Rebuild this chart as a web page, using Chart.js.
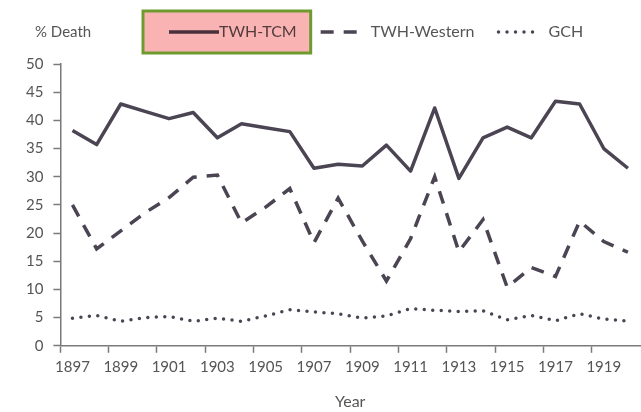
<!DOCTYPE html>
<html>
<head>
<meta charset="utf-8">
<title>% Death by year</title>
<script src="https://cdn.jsdelivr.net/npm/chart.js@4.4.1/dist/chart.umd.min.js"></script>
<style>
    html, body { margin: 0; padding: 0; background: #fff; }
    #wrap { width: 641px; height: 412px; }
</style>
</head>
<body>
<div id="wrap"><canvas id="death-chart"></canvas></div>
<script>
    "use strict";

    // Data
    var years = ["1897", "1898", "1899", "1900", "1901", "1902", "1903", "1904",
                 "1905", "1906", "1907", "1908", "1909", "1910", "1911", "1912",
                 "1913", "1914", "1915", "1916", "1917", "1918", "1919", "1920"];

    var twhTcm = [38.2, 35.7, 42.9, 41.6, 40.3, 41.4, 36.9, 39.4, 38.7, 38.0, 31.5, 32.2,
                  31.9, 35.6, 31.0, 42.2, 29.7, 36.9, 38.8, 36.9, 43.4, 42.9, 35.0, 31.5];

    var twhWestern = [25.0, 17.2, 20.4, 23.6, 26.3, 29.9, 30.3, 21.8, 24.6, 27.9, 18.3, 26.2,
                      18.6, 11.5, 19.0, 30.0, 16.7, 22.4, 10.4, 13.9, 12.3, 22.1, 18.5, 16.6];

    var gch = [4.9, 5.4, 4.35, 5.0, 5.2, 4.35, 4.9, 4.35, 5.3, 6.4, 6.0, 5.7,
               4.9, 5.3, 6.6, 6.3, 6.1, 6.2, 4.6, 5.4, 4.45, 5.7, 4.75, 4.4];

    var yTicks = [0, 5, 10, 15, 20, 25, 30, 35, 40, 45, 50];

    var lineColor = "#4b4452";
    var axisColor = "#7a7a7a";
    var textColor = "#555555";
    var fontFamily = "Lato, 'Open Sans', sans-serif";
    var sampleLen = [50, 42, 36];   // legend sample length per series

    // legend: shifted right, with extra room below it
    var legendTweak = {
        id: "legendTweak",
        beforeLayout: function (chart) {
            var lg = chart.legend;
            if (lg && !lg._tweaked) {
                var fit = lg.fit;
                lg.fit = function () {
                    fit.call(this);
                    this.height += 14;
                };
                lg._tweaked = true;
            }
        },
        afterLayout: function (chart) {
            chart.legend.left = 145;
        }
    };

    // caption, legend samples and the pink/green highlight box
    var overlay = {
        id: "overlay",
        afterDraw: function (chart) {
            var ctx = chart.ctx;
            var boxes = chart.legend.legendHitBoxes;

            ctx.save();
            chart.data.datasets.forEach(function (ds, i) {
                var hit = boxes[i];
                var y = hit.top + hit.height / 2;
                ctx.beginPath();
                ctx.strokeStyle = ds.borderColor;
                ctx.lineWidth = ds.borderWidth;
                ctx.lineCap = ds.borderCapStyle || "butt";
                ctx.setLineDash(ds.borderDash || []);
                ctx.moveTo(hit.left, y);
                ctx.lineTo(hit.left + sampleLen[i], y);
                ctx.stroke();
            });
            ctx.setLineDash([]);

            var first = boxes[0];
            var cy = first.top + first.height / 2;
            ctx.font = "15px " + fontFamily;
            ctx.fillStyle = textColor;
            ctx.textAlign = "left";
            ctx.textBaseline = "middle";
            ctx.fillText("% Death", 35, cy);

            var bx = first.left - 26, by = cy - 21;
            var bw = first.width + 40, bh = 42;
            ctx.globalCompositeOperation = "multiply";
            ctx.fillStyle = "#fab3b3";
            ctx.fillRect(bx, by, bw, bh);
            ctx.globalCompositeOperation = "source-over";
            ctx.strokeStyle = "#6e9b30";
            ctx.lineWidth = 3;
            ctx.strokeRect(bx, by, bw, bh);
            ctx.restore();
        }
    };

    var ctx = document.getElementById("death-chart").getContext("2d");
    var deathChart = new Chart(ctx, {
        type: "line",
        data: {
            labels: years,
            datasets: [
                {
                    label: "TWH-TCM",
                    data: twhTcm,
                    borderColor: lineColor,
                    backgroundColor: lineColor,
                    borderWidth: 3.5,
                    borderJoinStyle: "round",
                    pointRadius: 0,
                    tension: 0
                },
                {
                    label: "TWH-Western",
                    data: twhWestern,
                    borderColor: lineColor,
                    backgroundColor: lineColor,
                    borderWidth: 3.5,
                    borderDash: [13, 10],
                    pointRadius: 0,
                    tension: 0
                },
                {
                    label: "GCH",
                    data: gch,
                    borderColor: lineColor,
                    backgroundColor: lineColor,
                    borderWidth: 3.5,
                    borderDash: [0, 8.5],
                    borderCapStyle: "round",
                    pointRadius: 0,
                    tension: 0
                }
            ]
        },
        options: {
            responsive: true,
            maintainAspectRatio: false,
            animation: false,
            layout: {
                padding: { left: 16, right: 1, top: 0, bottom: 1 }
            },
            plugins: {
                tooltip: { enabled: false },
                legend: {
                    position: "top",
                    align: "start",
                    labels: {
                        usePointStyle: true,
                        pointStyle: "line",
                        pointStyleWidth: 42,
                        boxHeight: 16,
                        padding: 24,
                        color: textColor,
                        font: { family: fontFamily, size: 16 },
                        generateLabels: function (chart) {
                            var items = Chart.defaults.plugins.legend.labels.generateLabels(chart);
                            items.forEach(function (it) {
                                it.strokeStyle = "rgba(0,0,0,0)";
                                it.fillStyle = "rgba(0,0,0,0)";
                            });
                            return items;
                        }
                    }
                }
            },
            scales: {
                x: {
                    type: "category",
                    offset: true,
                    grid: {
                        offset: true,
                        drawOnChartArea: false,
                        drawTicks: true,
                        tickLength: 7,
                        tickWidth: 1.5,
                        tickColor: function (c) {
                            return c.index % 2 === 0 ? axisColor : "rgba(0,0,0,0)";
                        }
                    },
                    border: { color: axisColor, width: 1.5 },
                    ticks: {
                        autoSkip: false,
                        maxRotation: 0,
                        padding: 5,
                        color: textColor,
                        font: { family: fontFamily, size: 15 },
                        callback: function (value, index) {
                            return index % 2 === 0 ? this.getLabelForValue(value) : "";
                        }
                    },
                    title: {
                        display: true,
                        text: "Year",
                        color: textColor,
                        font: { family: fontFamily, size: 16 },
                        padding: { top: 11, bottom: 0 }
                    }
                },
                y: {
                    min: 0,
                    max: 50,
                    afterBuildTicks: function (axis) {
                        axis.ticks = yTicks.map(function (v) { return { value: v }; });
                    },
                    grid: {
                        drawOnChartArea: false,
                        drawTicks: true,
                        tickLength: 7,
                        tickWidth: 1.5,
                        tickColor: axisColor
                    },
                    border: { color: axisColor, width: 1.5 },
                    ticks: {
                        padding: 10,
                        color: textColor,
                        font: { family: fontFamily, size: 15 }
                    }
                }
            }
        },
        plugins: [legendTweak, overlay]
    });
</script>
</body>
</html>
